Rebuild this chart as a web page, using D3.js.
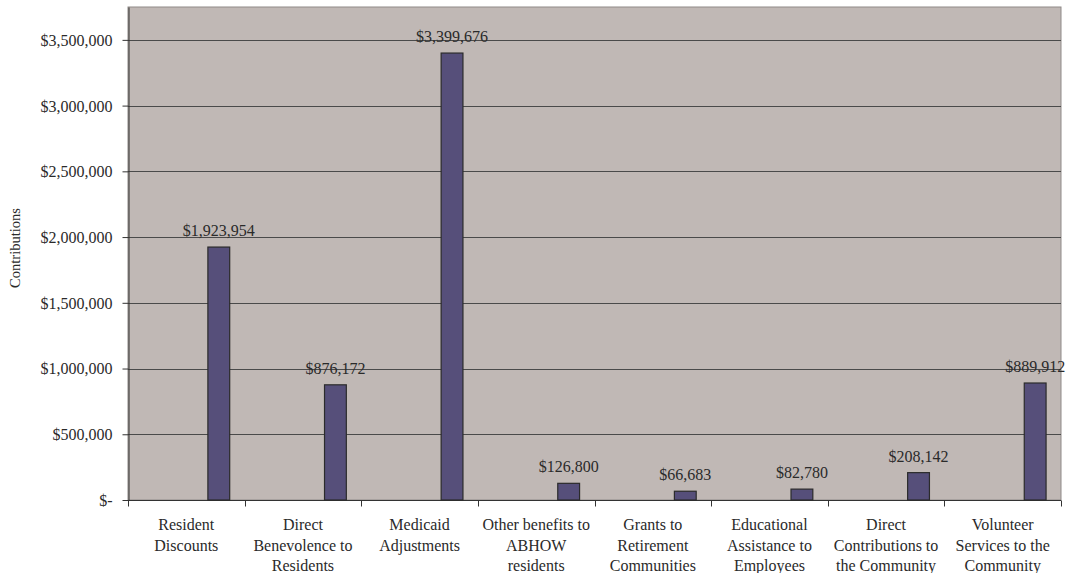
<!DOCTYPE html>
<html><head><meta charset="utf-8">
<script src="https://cdn.jsdelivr.net/npm/d3@7"></script>
<style>body{margin:0;background:#fff;} svg{display:block;} text{font-family:"Liberation Serif","Times New Roman",serif;fill:#2a2a2a;}</style>
</head><body>
<svg id="c" width="1068" height="573"></svg>
<script>
const categories = [
  ["Resident","Discounts"],
  ["Direct","Benevolence to","Residents"],
  ["Medicaid","Adjustments"],
  ["Other benefits to","ABHOW","residents"],
  ["Grants to","Retirement","Communities"],
  ["Educational","Assistance to","Employees"],
  ["Direct","Contributions to","the Community"],
  ["Volunteer","Services to the","Community"]
];
const values = [1923954, 876172, 3399676, 126800, 66683, 82780, 208142, 889912];
const yTicks = [0, 500000, 1000000, 1500000, 2000000, 2500000, 3000000, 3500000];
const yTitle = "Contributions";

const svg = d3.select("#c");
const L = 128, R = 1061, T = 7, B = 500;
const keys = categories.map((c,i)=>i);
const x = d3.scaleBand().domain(keys).range([L, R]).padding(0);
const y = d3.scaleLinear().domain([0, 3750000]).range([B, T]);
const fmt = v => v === 0 ? "$-" : "$" + d3.format(",")(v);

svg.append("rect").attr("x", L).attr("y", T).attr("width", R - L).attr("height", B - T)
  .attr("fill", "#c0b8b5").attr("stroke", "#8f8a88").attr("stroke-width", 1);

// gridlines
svg.append("g").selectAll("line").data(yTicks.filter(d=>d>0)).join("line")
  .attr("x1", L).attr("x2", R).attr("y1", d=>Math.round(y(d))+0.5).attr("y2", d=>Math.round(y(d))+0.5)
  .attr("stroke", "#4a4a4a").attr("stroke-width", 1);

// y axis
const ya = svg.append("g").attr("transform", `translate(${L+0.5},0)`)
  .call(d3.axisLeft(y).tickValues(yTicks).tickFormat(fmt).tickSize(6).tickSizeOuter(0));
ya.select(".domain").attr("stroke", "#333");
ya.selectAll(".tick line").attr("stroke", "#333");
ya.selectAll(".tick text").attr("font-size", 16).attr("x", -16).attr("dy", "0.34em")
  .style("font-family", "Liberation Serif").attr("fill", "#2a2a2a");

// x axis
const xa = svg.append("g").attr("transform", `translate(0,${B+0.5})`);
xa.append("line").attr("x1", L).attr("x2", R).attr("stroke", "#333");
xa.selectAll("line.t").data(d3.range(categories.length + 1)).join("line").attr("class","t")
  .attr("x1", i => Math.round(L + i * x.bandwidth()) + 0.5).attr("x2", i => Math.round(L + i * x.bandwidth()) + 0.5)
  .attr("y1", 0).attr("y2", 6).attr("stroke", "#333");
const cl = svg.append("g").selectAll("text").data(categories).join("text")
  .attr("text-anchor", "middle").attr("font-size", 16)
  .attr("transform", (d,i) => `translate(${x(i) + x.bandwidth()/2},${B + 30})`);
cl.each(function(d){
  d3.select(this).selectAll("tspan").data(d).join("tspan")
    .attr("x", 0).attr("y", (t,j) => j * 20.5).text(t => t);
});

// bars
const bw = x.bandwidth();
svg.append("g").selectAll("rect").data(values).join("rect")
  .attr("x", (d,i) => x(i) + bw * 0.685)
  .attr("width", bw * 0.187)
  .attr("y", d => y(d))
  .attr("height", d => B - y(d))
  .attr("fill", "#564f7a").attr("stroke", "#2b2b2b").attr("stroke-width", 1.2);

// labels
svg.append("g").selectAll("text").data(values).join("text")
  .attr("x", (d,i) => x(i) + bw * 0.685 + bw * 0.187 / 2)
  .attr("y", d => y(d) - 11)
  .attr("text-anchor", "middle").attr("font-size", 16)
  .text(d => fmt(d));

// y title
svg.append("text").attr("transform", "translate(20,248) rotate(-90)")
  .attr("text-anchor", "middle").attr("font-size", 14.5).text(yTitle);
</script>
</body></html>
